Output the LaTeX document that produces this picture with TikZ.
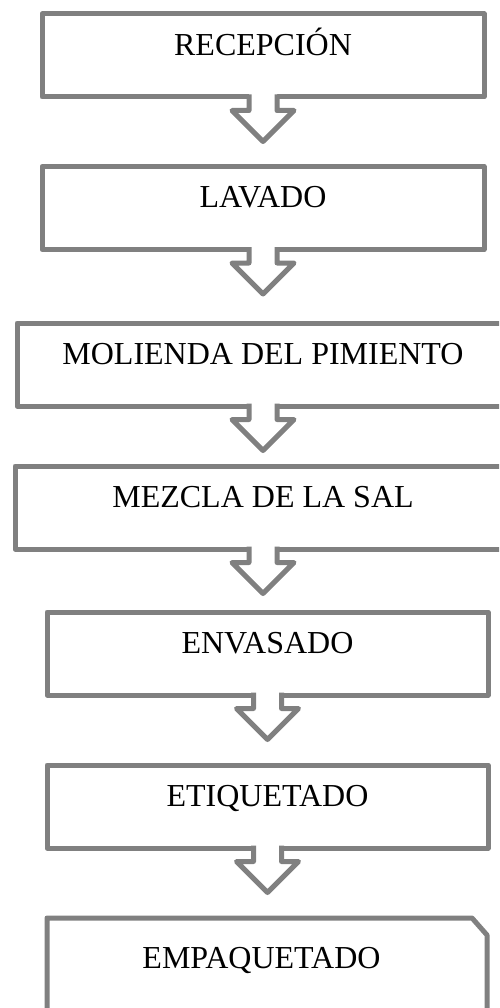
\documentclass[tikz,border=0pt]{standalone}
\usepackage{fontspec}
\setmainfont{Liberation Serif}
\usetikzlibrary{calc}
\definecolor{boxgray}{RGB}{128,128,128}
\tikzset{
  stepbox/.style={draw=boxgray, line width=5pt, line join=round, rectangle,
    inner sep=0pt, outer sep=0pt, minimum height=83pt,
    text height=20pt, text depth=20pt,
    font=\fontsize{32}{36}\selectfont},
  plainbox/.style={stepbox, draw=none},
  arrowfill/.style={fill=white},
  arrowline/.style={draw=boxgray, line width=5pt, line join=round, line cap=rect},
}
\newcommand\flowarrow[1]{%
  \path[arrowfill] (#1.south) ++(-14,-3) -- ++(0,16.5) -- ++(-17,0) -- ++(31,31)
    -- ++(31,-31) -- ++(-17,0) -- ++(0,-16.5) -- cycle;
  \draw[arrowline] (#1.south) ++(-14,0) -- ++(0,13.5) -- ++(-17,0) -- ++(31,31)
    -- ++(31,-31) -- ++(-17,0) -- ++(0,-13.5);
}
\begin{document}
\begin{tikzpicture}[x=1pt,y=-1pt]
\useasboundingbox (0,0) rectangle (499,1008);
\clip (0,0) rectangle (499,1008);
\fill[white] (0,0) rectangle (499,1008);

\node[stepbox, minimum width=442pt] (b1) at (263,55.5) {RECEPCIÓN};
\node[stepbox, minimum width=442pt] (b2) at (263,208) {LAVADO};
\node[stepbox, minimum width=492pt] (b3) at (263,364.5) {MOLIENDA DEL PIMIENTO};
\node[stepbox, minimum width=496pt] (b4) at (263,507.5) {MEZCLA DE LA SAL};
\node[stepbox, minimum width=441pt] (b5) at (267.5,653.5) {ENVASADO};
\node[stepbox, minimum width=441pt] (b6) at (267.5,806.5) {ETIQUETADO};

\node[plainbox, minimum width=440pt, minimum height=100pt] (b7) at (267,968) {};
\node[plainbox, minimum height=0pt] (t7) at ($(b7.center)+(-5.5,0)$) {EMPAQUETADO};
\draw[draw=boxgray, line width=5pt, line join=round]
  (b7.south west) -- (b7.north west) -- ($(b7.north east)+(-15,0)$)
  -- ($(b7.north east)+(0,17)$) -- (b7.south east);

\flowarrow{b1}
\flowarrow{b2}
\flowarrow{b3}
\flowarrow{b4}
\flowarrow{b5}
\flowarrow{b6}
\end{tikzpicture}
\end{document}
